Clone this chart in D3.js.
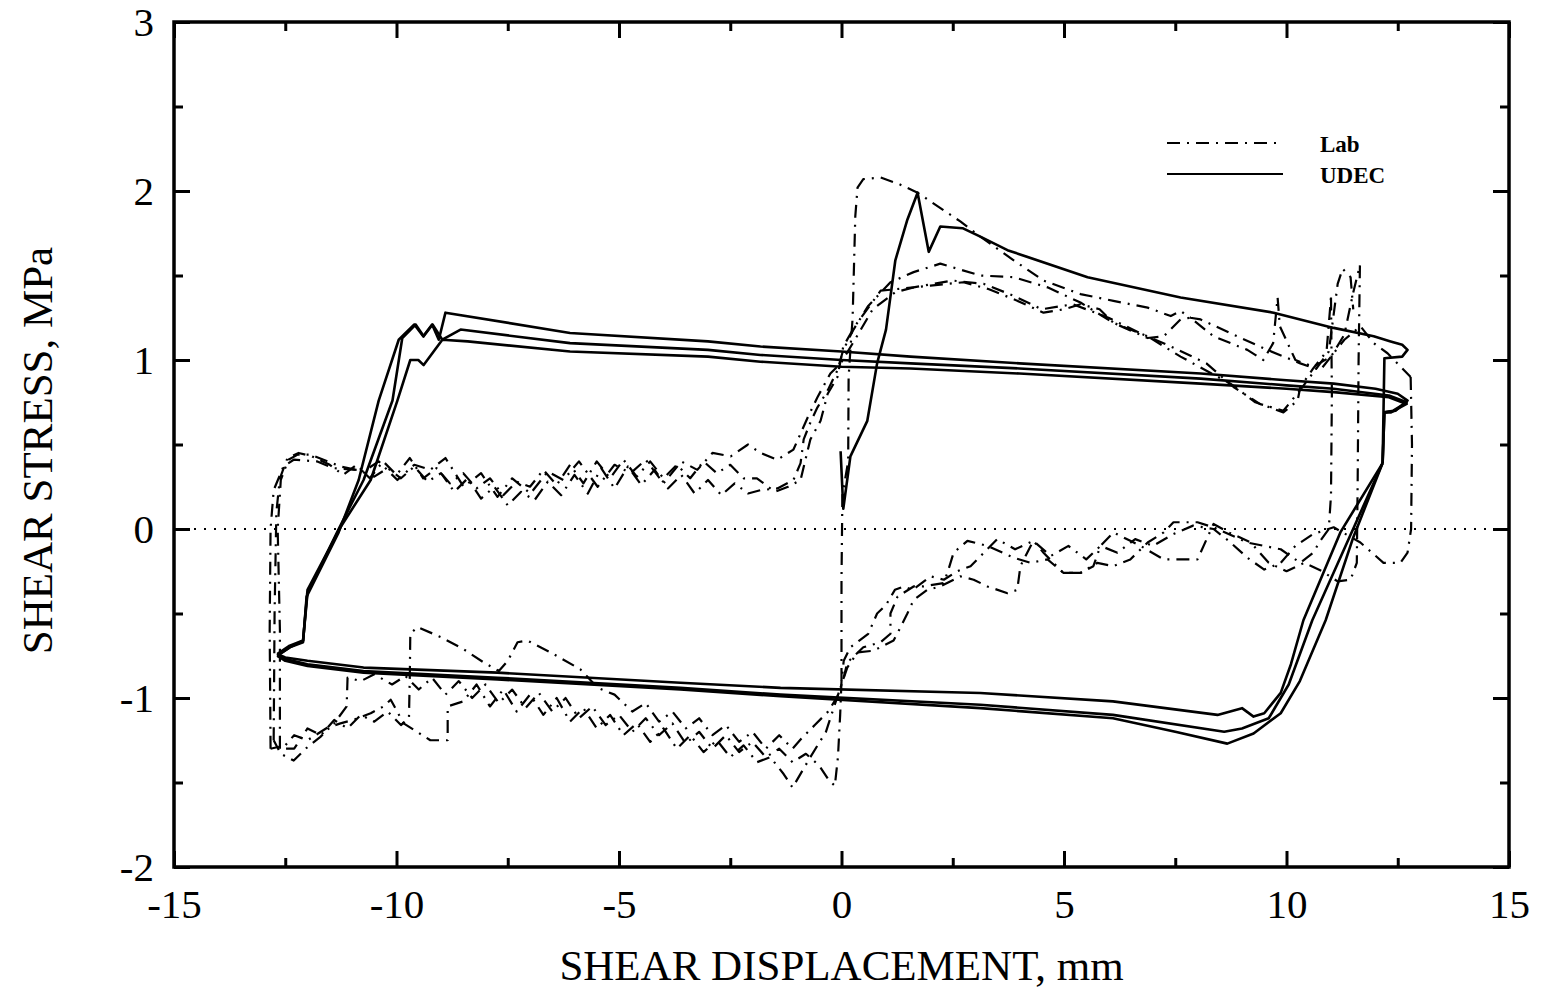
<!DOCTYPE html>
<html>
<head>
<meta charset="utf-8">
<script src="https://cdn.jsdelivr.net/npm/d3@7"></script>
<style>
  body { margin: 0; background: #fff; }
  svg text { font-family: "Liberation Serif", "Times New Roman", serif; fill: #000; }
</style>
</head>
<body>
<div id="chart"></div>
<script>
// axis ticks
const xMajor = [-15, -10, -5, 0, 5, 10, 15];
const xMinor = [-12.5, -7.5, -2.5, 2.5, 7.5, 12.5];
const yMajor = [-2, -1, 0, 1, 2, 3];
const yMinor = [-1.5, -0.5, 0.5, 1.5, 2.5];

// UDEC (solid), [displacement mm, stress MPa]
const udecStart = [[-0.02,0.46],[0.04,0.12],[0.2,0.43],[0.58,0.64],[0.8,0.98],[1.0,1.18],[1.21,1.59],[1.48,1.83],[1.71,1.99],[1.96,1.64],[2.22,1.79],[2.72,1.78],[3.12,1.73],[3.73,1.65],[5.53,1.49],[7.62,1.37],[9.71,1.28],[11.06,1.19],[11.96,1.14],[12.34,1.11],[12.6,1.09],[12.72,1.06],[12.6,1.02],[12.2,1.01],[12.16,0.39]];
const udecDown1 = [[12.16,0.39],[11.5,-0.05],[10.88,-0.54],[10.3,-0.9],[9.87,-1.09],[9.26,-1.21],[8.67,-1.27],[7.5,-1.2],[6.1,-1.12],[3.12,-1.06],[-1.37,-0.99],[-3.62,-0.95],[-7.73,-0.89],[-10.74,-0.85],[-12.0,-0.81],[-12.5,-0.78],[-12.68,-0.75]];
const udecUp1 = [[-12.68,-0.75],[-12.4,-0.7],[-12.1,-0.67],[-12.02,-0.4],[-11.3,-0.02],[-10.85,0.29],[-10.4,0.76],[-9.95,1.12],[-9.6,1.21],[-9.4,1.14],[-9.2,1.21],[-9.05,1.12],[-8.9,1.28],[-6.1,1.16],[-3,1.11],[-1.82,1.08],[0,1.05],[1.55,1.02],[4,0.98],[8.07,0.92],[10,0.88],[11.06,0.86],[12.0,0.83],[12.5,0.8],[12.72,0.76],[12.45,0.7],[12.2,0.69],[12.16,0.39]];
const udecDown2 = [[12.16,0.39],[11.21,-0.02],[10.38,-0.54],[10.1,-0.8],[9.87,-0.97],[9.5,-1.09],[9.26,-1.11],[9.0,-1.06],[8.45,-1.1],[6.1,-1.02],[3.12,-0.97],[-1.37,-0.94],[-3.62,-0.91],[-7.73,-0.85],[-10.74,-0.82],[-12.0,-0.78],[-12.5,-0.76],[-12.68,-0.74]];
const udecUp2 = [[-12.68,-0.74],[-12.4,-0.69],[-12.1,-0.66],[-12.0,-0.38],[-11.3,0.0],[-10.74,0.29],[-10.09,0.76],[-9.87,1.13],[-9.57,1.21],[-9.39,1.14],[-9.19,1.21],[-8.97,1.12],[-8.56,1.18],[-6.1,1.1],[-3,1.06],[-1.82,1.03],[0,1.0],[1.55,0.98],[4,0.95],[8.07,0.89],[10,0.85],[11.06,0.83],[12.3,0.79],[12.7,0.75],[12.4,0.7],[12.2,0.69],[12.16,0.39]];
const udecDown3 = [[12.16,0.39],[10.58,-0.54],[10.05,-0.92],[9.6,-1.12],[9.0,-1.18],[8.6,-1.2],[6.1,-1.1],[3.12,-1.04],[-1.37,-0.98],[-3.62,-0.94],[-7.73,-0.88],[-10.74,-0.84],[-12.0,-0.8],[-12.5,-0.77],[-12.68,-0.75]];
const udecUp3 = [[-12.68,-0.75],[-12.4,-0.7],[-12.1,-0.66],[-12.0,-0.36],[-11.26,0.01],[-10.58,0.29],[-9.98,0.76],[-9.69,1.0],[-9.51,1.0],[-9.39,0.97],[-8.97,1.12],[-8.4,1.11],[-6.1,1.05],[-3,1.02],[-1.82,0.99],[0,0.96],[1.55,0.95],[4,0.92],[8.07,0.86],[10,0.83],[11.06,0.81],[12.3,0.78],[12.7,0.74],[12.35,0.69],[12.2,0.69]];

// Lab (dash-dot)
const labLoad = [[0.0,-0.9],[0.0,-0.3],[0.02,0.2],[0.15,0.4],[0.16,0.9],[0.2,1.06],[0.25,1.25],[0.29,1.65],[0.31,1.85],[0.36,2.02],[0.49,2.07],[0.88,2.08],[1.3,2.04],[1.71,1.99],[2.67,1.82],[3.12,1.73],[3.87,1.59],[4.54,1.47],[5.37,1.39],[6.11,1.35],[6.88,1.31],[7.4,1.26],[7.62,1.29],[7.84,1.25],[8.07,1.24],[8.81,1.15],[9.57,1.06],[10.31,0.98],[10.76,0.94],[11.06,1.04],[11.3,1.12],[11.66,1.2],[11.96,1.1],[12.27,1.04],[12.79,0.9]];
const labN3 = [[12.79,0.9],[12.82,0.5],[12.8,0.0],[12.72,-0.14],[12.56,-0.2],[12.18,-0.2],[11.66,-0.08],[11.06,0.01],[10.6,-0.03],[10.2,-0.1],[9.87,-0.2],[9.5,-0.24],[9.12,-0.17],[8.7,-0.07],[8.36,0.0],[7.9,0.02],[7.46,-0.03],[7.0,-0.1],[6.6,-0.06],[6.2,-0.14],[5.82,-0.1],[5.5,-0.18],[5.1,-0.1],[4.7,-0.16],[4.31,-0.07],[3.9,-0.12],[3.5,-0.06],[3.2,-0.14],[2.9,-0.22],[2.6,-0.25],[2.3,-0.3],[2.0,-0.28],[1.8,-0.32],[1.6,-0.36],[1.4,-0.34],[1.2,-0.36],[1.0,-0.45],[0.8,-0.5],[0.6,-0.62],[0.4,-0.66],[0.2,-0.7],[0.05,-0.78],[0.0,-0.9],[-0.03,-1.1],[-0.08,-1.35],[-0.15,-1.52],[-0.3,-1.48],[-0.5,-1.4],[-0.8,-1.33],[-1.1,-1.38],[-1.4,-1.3],[-1.7,-1.35],[-2.0,-1.26],[-2.3,-1.32],[-2.6,-1.22],[-2.9,-1.3],[-3.2,-1.2],[-3.5,-1.27],[-3.8,-1.15],[-4.1,-1.22],[-4.4,-1.12],[-4.7,-1.2],[-5.0,-1.1],[-5.3,-1.16],[-5.6,-1.05],[-5.9,-1.12],[-6.2,-1.0],[-6.5,-1.08],[-6.8,-0.97],[-7.1,-1.06],[-7.4,-0.95],[-7.7,-1.03],[-8.0,-0.92],[-8.3,-1.0],[-8.6,-0.9],[-8.9,-0.98],[-9.2,-0.88],[-9.5,-0.95],[-9.8,-0.87],[-10.1,-0.92],[-10.5,-0.86],[-10.8,-0.9],[-11.1,-0.88],[-11.12,-1.05],[-11.4,-1.15],[-11.7,-1.2],[-12.0,-1.25],[-12.3,-1.22],[-12.5,-1.28],[-12.83,-1.3]];
const labP1 = [[-12.83,-1.3],[-12.85,-0.6],[-12.83,0.0],[-12.76,0.23],[-12.54,0.37],[-12.31,0.41],[-11.78,0.4],[-11.42,0.36],[-10.88,0.35],[-10.5,0.31],[-10.2,0.36],[-9.9,0.3],[-9.6,0.37],[-9.3,0.28],[-9.0,0.33],[-8.7,0.22],[-8.4,0.3],[-8.1,0.18],[-7.8,0.25],[-7.5,0.14],[-7.2,0.22],[-6.9,0.17],[-6.6,0.28],[-6.3,0.2],[-6.0,0.32],[-5.7,0.21],[-5.4,0.36],[-5.1,0.24],[-4.8,0.37],[-4.5,0.26],[-4.2,0.35],[-3.9,0.24],[-3.6,0.32],[-3.3,0.21],[-3.0,0.29],[-2.7,0.2],[-2.4,0.27],[-2.1,0.21],[-1.82,0.23],[-1.44,0.24],[-1.08,0.29],[-0.92,0.39],[-0.85,0.53],[-0.7,0.63],[-0.54,0.72],[-0.31,0.82],[-0.09,0.94],[0.04,1.06],[0.27,1.18],[0.6,1.32],[1.1,1.46],[1.62,1.52],[2.22,1.57],[3.12,1.5],[3.87,1.49],[4.63,1.43],[5.37,1.34],[6.11,1.22],[6.88,1.14],[7.62,1.02],[8.74,0.86],[9.3,0.75],[9.93,0.69],[10.25,0.76],[10.31,0.84],[10.6,0.95],[10.9,1.05],[11.0,1.37]];
const labN1 = [[11.0,1.37],[11.02,0.8],[11.0,0.2],[10.95,0.0],[10.76,-0.07],[10.6,-0.14],[10.31,-0.2],[9.87,-0.12],[9.12,-0.08],[8.36,0.01],[8.0,0.04],[7.46,0.04],[7.24,-0.02],[6.88,-0.08],[6.49,-0.18],[6.11,-0.22],[5.75,-0.2],[5.37,-0.26],[4.99,-0.26],[4.63,-0.18],[4.25,-0.2],[3.87,-0.17],[3.28,-0.1],[2.83,-0.07],[2.52,-0.14],[2.38,-0.26],[2.29,-0.32],[1.84,-0.34],[1.62,-0.34],[1.26,-0.4],[1.1,-0.5],[1.1,-0.62],[0.88,-0.67],[0.49,-0.7],[0.13,-0.79],[0.04,-0.89],[-0.09,-0.99],[-0.3,-1.08],[-0.6,-1.16],[-0.9,-1.24],[-1.1,-1.3],[-1.4,-1.22],[-1.7,-1.3],[-2.0,-1.2],[-2.3,-1.26],[-2.6,-1.16],[-2.9,-1.22],[-3.2,-1.12],[-3.5,-1.18],[-3.8,-1.08],[-4.1,-1.14],[-4.4,-1.03],[-4.7,-1.08],[-5.1,-0.98],[-5.48,-0.94],[-5.87,-0.83],[-6.54,-0.73],[-7.06,-0.66],[-7.28,-0.67],[-7.5,-0.78],[-7.7,-0.84],[-8.04,-0.79],[-8.5,-0.71],[-9.0,-0.64],[-9.53,-0.58],[-9.69,-0.62],[-9.7,-0.85],[-9.72,-1.12],[-9.9,-1.16],[-10.2,-1.08],[-10.5,-1.14],[-10.8,-1.1],[-11.1,-1.18],[-11.4,-1.13],[-11.7,-1.22],[-12.0,-1.18],[-12.3,-1.3],[-12.62,-1.3]];
const labP2 = [[-12.62,-1.3],[-12.62,-0.6],[-12.67,0.0],[-12.6,0.29],[-12.43,0.41],[-12.22,0.44],[-11.93,0.44],[-11.26,0.37],[-10.74,0.34],[-10.4,0.4],[-9.98,0.29],[-9.6,0.38],[-9.24,0.35],[-8.9,0.42],[-8.49,0.25],[-8.1,0.33],[-7.73,0.19],[-7.4,0.3],[-6.99,0.21],[-6.6,0.34],[-6.25,0.29],[-5.9,0.4],[-5.48,0.25],[-5.1,0.38],[-4.74,0.33],[-4.4,0.41],[-4.0,0.27],[-3.6,0.4],[-3.24,0.35],[-2.9,0.45],[-2.49,0.43],[-2.1,0.5],[-1.82,0.45],[-1.44,0.41],[-1.08,0.47],[-0.76,0.66],[-0.54,0.78],[-0.25,0.92],[-0.02,0.98],[0.3,1.12],[0.7,1.3],[1.2,1.4],[1.62,1.43],[2.0,1.44],[2.74,1.46],[3.3,1.42],[3.87,1.36],[4.54,1.28],[5.0,1.3],[5.37,1.33],[5.8,1.3],[6.11,1.22],[6.88,1.13],[7.24,1.14],[7.62,1.24],[7.84,1.25],[8.36,1.14],[9.12,1.06],[9.48,1.0],[9.7,1.1],[9.8,1.37],[9.85,1.2],[10.2,1.0],[10.6,0.96],[11.0,1.02],[11.3,1.15],[11.5,1.4],[11.65,1.56]];
const labN2 = [[11.65,1.56],[11.62,1.0],[11.6,0.3],[11.58,-0.2],[11.44,-0.3],[11.15,-0.31],[10.8,-0.25],[10.4,-0.2],[10.0,-0.25],[9.6,-0.2],[9.2,-0.08],[8.7,-0.02],[8.36,0.03],[8.0,-0.18],[7.24,-0.18],[6.72,-0.1],[6.49,-0.07],[6.11,-0.02],[5.82,-0.1],[5.66,-0.22],[5.37,-0.26],[4.99,-0.26],[4.76,-0.2],[4.54,-0.14],[4.31,-0.07],[4.02,-0.22],[3.95,-0.36],[3.73,-0.38],[3.28,-0.34],[2.97,-0.3],[2.67,-0.28],[2.52,-0.3],[2.22,-0.34],[1.93,-0.36],[1.62,-0.42],[1.48,-0.5],[1.33,-0.58],[1.17,-0.66],[0.72,-0.72],[0.36,-0.73],[0.13,-0.82],[-0.09,-0.99],[-0.35,-1.2],[-0.7,-1.35],[-1.1,-1.53],[-1.3,-1.45],[-1.6,-1.35],[-1.9,-1.38],[-2.2,-1.28],[-2.5,-1.35],[-2.8,-1.25],[-3.1,-1.32],[-3.4,-1.22],[-3.7,-1.3],[-4.0,-1.18],[-4.3,-1.26],[-4.6,-1.15],[-4.9,-1.22],[-5.2,-1.1],[-5.5,-1.18],[-5.8,-1.06],[-6.1,-1.14],[-6.4,-1.0],[-6.7,-1.1],[-7.0,-0.98],[-7.3,-1.08],[-7.6,-0.95],[-7.9,-1.05],[-8.2,-0.92],[-8.5,-1.02],[-8.85,-1.05],[-8.85,-1.25],[-9.24,-1.25],[-9.84,-1.15],[-10.13,-1.01],[-10.29,-1.05],[-10.58,-1.09],[-10.97,-1.13],[-11.26,-1.15],[-11.48,-1.17],[-11.71,-1.23],[-12.0,-1.29],[-12.31,-1.37],[-12.6,-1.33],[-12.76,-1.25]];
const labP3 = [[-12.76,-1.25],[-12.74,-0.5],[-12.7,0.1],[-12.62,0.3],[-12.45,0.42],[-12.2,0.45],[-11.9,0.43],[-11.5,0.38],[-11.2,0.32],[-10.9,0.38],[-10.6,0.3],[-10.3,0.4],[-10.0,0.32],[-9.7,0.42],[-9.4,0.3],[-9.1,0.36],[-8.8,0.27],[-8.5,0.33],[-8.2,0.24],[-7.9,0.3],[-7.6,0.2],[-7.3,0.28],[-7.0,0.25],[-6.7,0.35],[-6.4,0.26],[-6.1,0.38],[-5.8,0.27],[-5.5,0.4],[-5.2,0.3],[-4.9,0.41],[-4.6,0.31],[-4.3,0.4],[-4.0,0.3],[-3.7,0.38],[-3.4,0.3],[-3.1,0.4],[-2.8,0.33],[-2.5,0.38],[-2.2,0.3],[-1.9,0.3],[-1.5,0.22],[-1.2,0.25],[-0.92,0.29],[-0.7,0.53],[-0.47,0.64],[-0.31,0.8],[-0.09,0.9],[0.04,1.08],[0.3,1.2],[0.88,1.41],[1.62,1.43],[2.5,1.47],[3.2,1.45],[3.87,1.38],[4.5,1.3],[5.2,1.33],[6.0,1.25],[6.7,1.16],[7.4,1.08],[8.2,0.98],[8.81,0.84],[9.4,0.74],[9.93,0.7],[10.3,0.82],[10.7,0.96],[10.95,1.05],[11.05,1.25],[11.15,1.45],[11.26,1.54],[11.44,1.49],[11.5,1.3]];

const udecRuns = [udecStart, udecDown1, udecUp1, udecDown2, udecUp2, udecDown3, udecUp3];
const labRuns = [labLoad, labN3, labP1, labN1, labP2, labN2, labP3];

const W = 1545, H = 992;
const margin = { top: 22, right: 36, bottom: 125, left: 174 };
const width = W - margin.left - margin.right;
const height = H - margin.top - margin.bottom;

const svg = d3.select("#chart").append("svg")
    .attr("width", W)
    .attr("height", H);

const g = svg.append("g")
    .attr("transform", `translate(${margin.left},${margin.top})`);

const x = d3.scaleLinear().domain([-15, 15]).range([0, width]);
const y = d3.scaleLinear().domain([-2, 3]).range([height, 0]);

const line = d3.line()
    .x(d => x(d[0]))
    .y(d => y(d[1]));

// plain hyphen for negatives, as on the original
const fmt = d => String(d);

// zero line (dotted)
g.append("line")
    .attr("x1", x(-15)).attr("x2", x(15))
    .attr("y1", y(0)).attr("y2", y(0))
    .attr("stroke", "#000")
    .attr("stroke-width", 2)
    .attr("stroke-dasharray", "2,8");

// lab curves
labRuns.forEach(run => {
    g.append("path")
        .datum(run)
        .attr("fill", "none")
        .attr("stroke", "#000")
        .attr("stroke-width", 2.2)
        .attr("stroke-dasharray", "13,7,2,7")
        .attr("stroke-linejoin", "round")
        .attr("d", line);
});

// UDEC curves
udecRuns.forEach(run => {
    g.append("path")
        .datum(run)
        .attr("fill", "none")
        .attr("stroke", "#000")
        .attr("stroke-width", 2.6)
        .attr("stroke-linejoin", "round")
        .attr("d", line);
});

// axes: ticks pointing inward on all four sides
function tickAxis(axis, values, size) {
    return axis.tickValues(values).tickSize(size).tickFormat("");
}

g.append("g")
    .attr("transform", `translate(0,${height})`)
    .call(d3.axisBottom(x).tickValues(xMajor).tickSize(-16).tickPadding(22).tickFormat(fmt));
g.append("g").attr("transform", `translate(0,${height})`).call(tickAxis(d3.axisBottom(x), xMinor, -9));
g.append("g").call(tickAxis(d3.axisTop(x), xMajor, -16));
g.append("g").call(tickAxis(d3.axisTop(x), xMinor, -9));

g.append("g")
    .call(d3.axisLeft(y).tickValues(yMajor).tickSize(-16).tickPadding(20).tickFormat(fmt));
g.append("g").call(tickAxis(d3.axisLeft(y), yMinor, -9));
g.append("g").attr("transform", `translate(${width},0)`).call(tickAxis(d3.axisRight(y), yMajor, -16));
g.append("g").attr("transform", `translate(${width},0)`).call(tickAxis(d3.axisRight(y), yMinor, -9));

g.selectAll(".domain").remove();
g.selectAll(".tick line").attr("stroke", "#000").attr("stroke-width", 3);
g.selectAll(".tick text")
    .style("font-family", "'Liberation Serif', serif")
    .style("font-size", "41px")
    .attr("fill", "#000");

// frame
g.append("rect")
    .attr("x", 0).attr("y", 0)
    .attr("width", width).attr("height", height)
    .attr("fill", "none")
    .attr("stroke", "#000")
    .attr("stroke-width", 3.5);

// axis titles
svg.append("text")
    .attr("x", margin.left + width / 2)
    .attr("y", 980)
    .attr("text-anchor", "middle")
    .style("font-size", "43px")
    .text("SHEAR DISPLACEMENT, mm");

svg.append("text")
    .attr("transform", `translate(52,${margin.top + height / 2 + 6}) rotate(-90)`)
    .attr("text-anchor", "middle")
    .style("font-size", "43px")
    .text("SHEAR STRESS, MPa");

// legend
const legend = svg.append("g").attr("transform", "translate(1167,143)");
legend.append("line")
    .attr("x1", 0).attr("x2", 116).attr("y1", 0).attr("y2", 0)
    .attr("stroke", "#000").attr("stroke-width", 2)
    .attr("stroke-dasharray", "13,7,2,7");
legend.append("line")
    .attr("x1", 0).attr("x2", 116).attr("y1", 31).attr("y2", 31)
    .attr("stroke", "#000").attr("stroke-width", 2);
legend.append("text")
    .attr("x", 153).attr("y", 9)
    .style("font-size", "23px").style("font-weight", "bold")
    .text("Lab");
legend.append("text")
    .attr("x", 153).attr("y", 40)
    .style("font-size", "23px").style("font-weight", "bold")
    .text("UDEC");
</script>
</body>
</html>
